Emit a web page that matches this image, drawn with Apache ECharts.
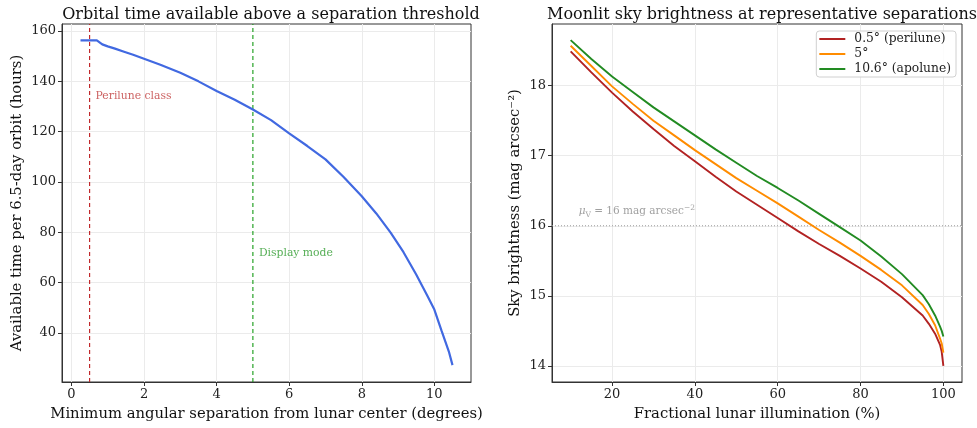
<!DOCTYPE html>
<html>
<head>
<meta charset="utf-8">
<script src="https://cdn.jsdelivr.net/npm/echarts@6/dist/echarts.min.js"></script>
<style>
  html, body { margin: 0; padding: 0; background: #fff; }
  #chart { width: 977px; height: 428px; }
</style>
</head>
<body>
<div id="chart"></div>
<script>
// left panel: orbital time vs separation threshold
var sepDeg = [0.25, 0.5, 0.7, 0.85, 1.0, 1.2, 1.45, 1.7, 2.0, 2.45, 3.0, 3.5, 4.0, 4.5, 5.0, 5.5, 6.0, 6.5, 7.0, 7.5, 8.0, 8.4, 8.8, 9.15, 9.5, 9.8, 10.0, 10.2, 10.4, 10.5];
var hoursAvail = [156.3, 156.3, 156.3, 154.7, 153.9, 153.0, 151.8, 150.6, 149.0, 146.6, 143.4, 140.0, 136.2, 132.7, 128.8, 124.6, 119.3, 114.3, 109.0, 102.0, 94.3, 87.5, 79.8, 72.1, 63.2, 55.0, 49.3, 40.8, 32.6, 27.2];
var sepTicks = [0, 2, 4, 6, 8, 10];
var hourTicks = [40, 60, 80, 100, 120, 140, 160];
var sepRange = [-0.26, 11.01];
var hourRange = [20.5, 162.8];
var perilunePos = 0.5;
var displayPos = 5;

// right panel: sky brightness vs illumination
var illum = [10, 15, 20, 25, 30, 35, 40, 45, 50, 55, 60, 65, 70, 75, 80, 85, 90, 95, 96.5, 98, 99.2, 99.6, 100];
var skyPeri = [18.49, 18.19, 17.90, 17.63, 17.38, 17.14, 16.92, 16.70, 16.49, 16.30, 16.11, 15.92, 15.74, 15.57, 15.39, 15.20, 14.98, 14.72, 14.60, 14.46, 14.30, 14.20, 14.00];
var skyMid = [18.57, 18.28, 17.99, 17.74, 17.50, 17.29, 17.08, 16.88, 16.68, 16.50, 16.32, 16.13, 15.94, 15.76, 15.57, 15.37, 15.15, 14.87, 14.74, 14.58, 14.39, 14.32, 14.19];
var skyApo = [18.65, 18.38, 18.13, 17.91, 17.69, 17.49, 17.29, 17.09, 16.90, 16.71, 16.54, 16.36, 16.17, 15.98, 15.79, 15.56, 15.31, 15.01, 14.88, 14.72, 14.56, 14.50, 14.42];
var illumTicks = [20, 40, 60, 80, 100];
var magTicks = [14, 15, 16, 17, 18];
var illumRange = [5.5, 104.5];
var magRange = [13.77, 18.88];
var seriesNames = ['0.5° (perilune)', '5°', '10.6° (apolune)'];
var thresholdMag = 16;

function zip(xs, ys) {
    var out = [];
    for (var i = 0; i < xs.length; i++) out.push([xs[i], ys[i]]);
    return out;
}

var FONT = 'DejaVu Serif';
var gridLine = { show: true, lineStyle: { color: '#ebebeb', width: 1 } };
var nameTxt = { color: '#111', fontFamily: FONT, fontSize: 14.8 };

function valAxis(grid, range, ticks, name, gap) {
    return {
        gridIndex: grid, type: 'value', min: range[0], max: range[1],
        name: name, nameLocation: 'middle', nameGap: gap, nameTextStyle: nameTxt,
        axisLine: { show: true, onZero: false, lineStyle: { color: '#333' } },
        axisTick: { show: true, length: 4, lineStyle: { color: '#333' }, customValues: ticks },
        axisLabel: { color: '#222', fontFamily: FONT, fontSize: 13, margin: 6, customValues: ticks },
        splitLine: gridLine
    };
}

// reference line spanning the whole axis, as a plain two-point line series
function refLine(name, grid, pts, color, dash, width) {
    return {
        name: name, type: 'line', xAxisIndex: grid, yAxisIndex: grid,
        data: pts, symbol: 'none', silent: true, z: 2,
        lineStyle: { color: color, type: dash, width: width }
    };
}

var myChart = echarts.init(document.getElementById('chart'));
myChart.setOption({
    animation: false,
    textStyle: { fontFamily: FONT },
    title: [
        {
            text: 'Orbital time available above a separation threshold',
            left: 266, top: 2, textAlign: 'center',
            textStyle: { fontFamily: FONT, fontSize: 16, fontWeight: 'normal', color: '#111' }
        },
        {
            text: 'Moonlit sky brightness at representative separations',
            left: 757, top: 2, textAlign: 'center',
            textStyle: { fontFamily: FONT, fontSize: 16, fontWeight: 'normal', color: '#111' }
        }
    ],
    legend: {
        data: seriesNames,
        orient: 'vertical',
        right: 21, top: 31,
        icon: 'rect',
        itemWidth: 26, itemHeight: 2,
        itemGap: 3,
        padding: [2, 5, 2, 3],
        borderColor: '#d0d0d0', borderWidth: 1, borderRadius: 3,
        backgroundColor: 'rgba(255,255,255,0.85)',
        textStyle: { fontFamily: FONT, fontSize: 12.3, color: '#222', padding: [0, 0, 0, 4] }
    },
    grid: [
        { left: 62, top: 24, right: 506, bottom: 46, show: true, borderColor: '#333', borderWidth: 1, backgroundColor: 'transparent' },
        { left: 552, top: 24, right: 15, bottom: 46, show: true, borderColor: '#333', borderWidth: 1, backgroundColor: 'transparent' }
    ],
    xAxis: [
        valAxis(0, sepRange, sepTicks, 'Minimum angular separation from lunar center (degrees)', 25),
        valAxis(1, illumRange, illumTicks, 'Fractional lunar illumination (%)', 25)
    ],
    yAxis: [
        valAxis(0, hourRange, hourTicks, 'Available time per 6.5-day orbit (hours)', 37),
        valAxis(1, magRange, magTicks, 'Sky brightness (mag arcsec⁻²)', 29)
    ],
    series: [
        {
            name: 'Available time',
            type: 'line', xAxisIndex: 0, yAxisIndex: 0,
            data: zip(sepDeg, hoursAvail),
            symbol: 'none',
            lineStyle: { color: '#4169e1', width: 2.2 },
            z: 3
        },
        refLine('perilune-line', 0, [[perilunePos, hourRange[0]], [perilunePos, hourRange[1]]], '#c0282b', [4, 3], 1.2),
        refLine('display-line', 0, [[displayPos, hourRange[0]], [displayPos, hourRange[1]]], '#119911', [4, 3], 1.1),
        {
            name: 'labels-left',
            type: 'scatter', xAxisIndex: 0, yAxisIndex: 0,
            symbolSize: 0, silent: true,
            data: [
                { value: [perilunePos, 134.3], label: { formatter: 'Perilune class', color: '#bf3a3a' } },
                { value: [displayPos, 71.8], label: { formatter: 'Display mode', color: '#2b9a2b' } }
            ],
            label: { show: true, position: 'right', distance: 6, fontFamily: FONT, fontSize: 10.8 }
        },
        refLine('threshold-line', 1, [[illumRange[0], thresholdMag], [illumRange[1], thresholdMag]], '#999999', [1, 2], 1),
        {
            name: seriesNames[0],
            type: 'line', xAxisIndex: 1, yAxisIndex: 1,
            data: zip(illum, skyPeri),
            symbol: 'none',
            lineStyle: { color: '#b22222', width: 1.9 }, itemStyle: { color: '#b22222' }
        },
        {
            name: seriesNames[1],
            type: 'line', xAxisIndex: 1, yAxisIndex: 1,
            data: zip(illum, skyMid),
            symbol: 'none',
            lineStyle: { color: '#ff8c00', width: 1.9 }, itemStyle: { color: '#ff8c00' }
        },
        {
            name: seriesNames[2],
            type: 'line', xAxisIndex: 1, yAxisIndex: 1,
            data: zip(illum, skyApo),
            symbol: 'none',
            lineStyle: { color: '#228b22', width: 1.9 }, itemStyle: { color: '#228b22' }
        },
        {
            name: 'labels-right',
            type: 'scatter', xAxisIndex: 1, yAxisIndex: 1,
            symbolSize: 0, silent: true,
            data: [{ value: [10, 16.2] }],
            label: {
                show: true, position: 'right', distance: 8,
                formatter: '{i|μ}{sub|V}{n| = 16 mag arcsec}{sup|−2}',
                rich: {
                    i: { fontFamily: FONT, fontStyle: 'italic', fontSize: 10.5, color: '#888', lineHeight: 15 },
                    sub: { fontFamily: FONT, fontSize: 7.5, color: '#888', verticalAlign: 'bottom' },
                    sup: { fontFamily: FONT, fontSize: 7.5, color: '#888', verticalAlign: 'top' },
                    n: { fontFamily: FONT, fontSize: 10.5, color: '#888', lineHeight: 15 }
                }
            }
        }
    ]
});
</script>
</body>
</html>
